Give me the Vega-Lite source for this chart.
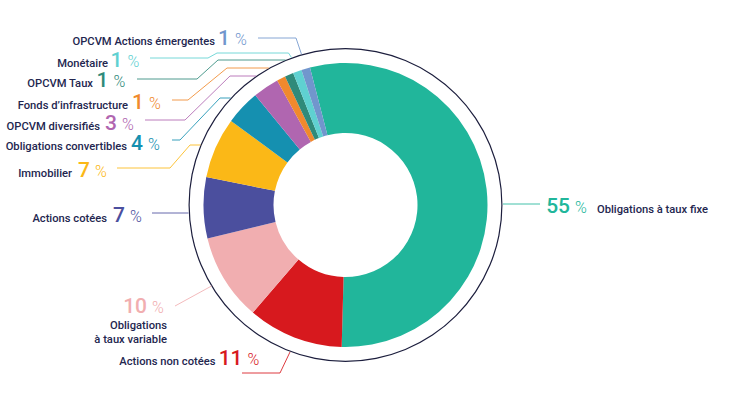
{
  "$schema": "https://vega.github.io/schema/vega-lite/v6.json",
  "width": 691,
  "height": 382,
  "autosize": {"type": "none"},
  "padding": {"left": 0, "top": 14, "right": 39, "bottom": 0},
  "background": "white",
  "config": {"view": {"stroke": null}},
  "datasets": {
    "slices": [
      {"name": "Obligations à taux fixe", "value": 55, "order": 1},
      {"name": "Actions non cotées", "value": 11, "order": 2},
      {"name": "Obligations à taux variable", "value": 10, "order": 3},
      {"name": "Actions cotées", "value": 7, "order": 4},
      {"name": "Immobilier", "value": 7, "order": 5},
      {"name": "Obligations convertibles", "value": 4, "order": 6},
      {"name": "OPCVM diversifiés", "value": 3, "order": 7},
      {"name": "Fonds d’infrastructure", "value": 1, "order": 8},
      {"name": "OPCVM Taux", "value": 1, "order": 9},
      {"name": "Monétaire", "value": 1, "order": 10},
      {"name": "OPCVM Actions émergentes", "value": 1, "order": 11}
    ],
    "labels": [
      {"name": "Obligations à taux fixe", "label": "Obligations à taux fixe", "pct": "55", "side": "right", "xnum": 224.5, "ynum": -8, "xlab": 251.5, "ylab": -8},
      {"name": "Actions non cotées", "label": "Actions non cotées", "pct": "11", "side": "left", "xnum": -103, "ynum": -160, "xlab": -130, "ylab": -160},
      {"name": "Obligations à taux variable", "label": "Obligations\nà taux variable", "pct": "10", "side": "left", "xnum": -198.5, "ynum": -108, "xlab": -178.5, "ylab": -124},
      {"name": "Actions cotées", "label": "Actions cotées", "pct": "7", "side": "left", "xnum": -220.5, "ynum": -17, "xlab": -238.5, "ylab": -17},
      {"name": "Immobilier", "label": "Immobilier", "pct": "7", "side": "left", "xnum": -255.5, "ynum": 28, "xlab": -273.5, "ylab": 28},
      {"name": "Obligations convertibles", "label": "Obligations convertibles", "pct": "4", "side": "left", "xnum": -202.5, "ynum": 55, "xlab": -218.5, "ylab": 55},
      {"name": "OPCVM diversifiés", "label": "OPCVM diversifiés", "pct": "3", "side": "left", "xnum": -228.5, "ynum": 75, "xlab": -245.5, "ylab": 75},
      {"name": "Fonds d’infrastructure", "label": "Fonds d’infrastructure", "pct": "1", "side": "left", "xnum": -201.5, "ynum": 96, "xlab": -217.5, "ylab": 96},
      {"name": "OPCVM Taux", "label": "OPCVM Taux", "pct": "1", "side": "left", "xnum": -237, "ynum": 118, "xlab": -252.5, "ylab": 118},
      {"name": "Monétaire", "label": "Monétaire", "pct": "1", "side": "left", "xnum": -223, "ynum": 138, "xlab": -237.5, "ylab": 138},
      {"name": "OPCVM Actions émergentes", "label": "OPCVM Actions émergentes", "pct": "1", "side": "left", "xnum": -115.5, "ynum": 160, "xlab": -130.5, "ylab": 160}
    ],
    "leaders": [
      {"name": "OPCVM Actions émergentes", "i": 1, "x": -87.5, "y": 167},
      {"name": "OPCVM Actions émergentes", "i": 2, "x": -49.5, "y": 167},
      {"name": "OPCVM Actions émergentes", "i": 3, "x": -44, "y": 150.7},
      {"name": "Monétaire", "i": 1, "x": -195.5, "y": 147},
      {"name": "Monétaire", "i": 2, "x": -137.5, "y": 147},
      {"name": "Monétaire", "i": 3, "x": -128.5, "y": 152},
      {"name": "Monétaire", "i": 4, "x": -57, "y": 152},
      {"name": "Monétaire", "i": 5, "x": -54, "y": 147.4},
      {"name": "OPCVM Taux", "i": 1, "x": -208.5, "y": 126},
      {"name": "OPCVM Taux", "i": 2, "x": -148.5, "y": 126},
      {"name": "OPCVM Taux", "i": 3, "x": -127.5, "y": 145},
      {"name": "OPCVM Taux", "i": 4, "x": -60, "y": 145},
      {"name": "Fonds d’infrastructure", "i": 1, "x": -173.5, "y": 105},
      {"name": "Fonds d’infrastructure", "i": 2, "x": -157.5, "y": 105},
      {"name": "Fonds d’infrastructure", "i": 3, "x": -118.5, "y": 137},
      {"name": "Fonds d’infrastructure", "i": 4, "x": -76.7, "y": 137},
      {"name": "OPCVM diversifiés", "i": 1, "x": -200.5, "y": 85},
      {"name": "OPCVM diversifiés", "i": 2, "x": -160.5, "y": 85},
      {"name": "OPCVM diversifiés", "i": 3, "x": -115.5, "y": 129},
      {"name": "OPCVM diversifiés", "i": 4, "x": -89.5, "y": 129},
      {"name": "Obligations convertibles", "i": 1, "x": -173.5, "y": 65},
      {"name": "Obligations convertibles", "i": 2, "x": -165.5, "y": 65},
      {"name": "Obligations convertibles", "i": 3, "x": -125.5, "y": 107},
      {"name": "Obligations convertibles", "i": 4, "x": -115, "y": 107},
      {"name": "Immobilier", "i": 1, "x": -228.5, "y": 37},
      {"name": "Immobilier", "i": 2, "x": -175.5, "y": 37},
      {"name": "Immobilier", "i": 3, "x": -155.5, "y": 60},
      {"name": "Immobilier", "i": 4, "x": -145, "y": 60},
      {"name": "Actions cotées", "i": 1, "x": -193.5, "y": -8},
      {"name": "Actions cotées", "i": 2, "x": -157, "y": -8},
      {"name": "Obligations à taux variable", "i": 1, "x": -170.5, "y": -101},
      {"name": "Obligations à taux variable", "i": 2, "x": -134, "y": -81},
      {"name": "Actions non cotées", "i": 1, "x": -103.5, "y": -168},
      {"name": "Actions non cotées", "i": 2, "x": -65.5, "y": -168},
      {"name": "Actions non cotées", "i": 3, "x": -55.5, "y": -147},
      {"name": "Obligations à taux fixe", "i": 1, "x": 157.5, "y": 1},
      {"name": "Obligations à taux fixe", "i": 2, "x": 194.5, "y": 1}
    ]
  },
  "layer": [
    {
      "data": {"values": [{"ring": "outer"}]},
      "mark": {"type": "arc", "radius": 157, "radius2": 155.8, "theta": 0, "theta2": 6.2832, "fill": "#1c1e3d"}
    },
    {
      "data": {"name": "slices"},
      "mark": {"type": "arc", "radius": 142, "radius2": 72, "strokeWidth": 0},
      "encoding": {
        "theta": {"field": "value", "type": "quantitative", "stack": true, "scale": {"range": [-0.2531, 6.0301]}},
        "color": {
          "field": "name", "type": "nominal", "legend": null,
          "scale": {
            "domain": ["Obligations à taux fixe", "Actions non cotées", "Obligations à taux variable", "Actions cotées", "Immobilier", "Obligations convertibles", "OPCVM diversifiés", "Fonds d’infrastructure", "OPCVM Taux", "Monétaire", "OPCVM Actions émergentes"],
            "range": ["#21b69b", "#d7191e", "#f1aeb0", "#4b4f9e", "#fbb817", "#1590b0", "#b066b0", "#f0892d", "#2f8a7a", "#5fd1d1", "#7196cd"]
          }
        },
        "order": {"field": "order", "type": "quantitative"}
      }
    },
    {
      "data": {"name": "leaders"},
      "mark": {"type": "line", "strokeWidth": 1, "opacity": 0.85, "interpolate": "linear"},
      "encoding": {
        "x": {"field": "x", "type": "quantitative", "scale": {"domain": [-345.5, 345.5], "nice": false, "zero": false}, "axis": null},
        "y": {"field": "y", "type": "quantitative", "scale": {"domain": [-191, 191], "nice": false, "zero": false}, "axis": null},
        "color": {"field": "name", "type": "nominal", "legend": null},
        "order": {"field": "i", "type": "quantitative"}
      }
    },
    {
      "data": {"name": "labels"},
      "mark": {"type": "text", "align": "right", "baseline": "alphabetic", "fontSize": 21, "font": "Roboto", "fontWeight": 500},
      "encoding": {
        "x": {"field": "xnum", "type": "quantitative"},
        "y": {"field": "ynum", "type": "quantitative"},
        "text": {"field": "pct"},
        "color": {"field": "name", "type": "nominal", "legend": null}
      }
    },
    {
      "data": {"name": "labels"},
      "mark": {"type": "text", "align": "left", "baseline": "alphabetic", "fontSize": 16, "dx": 5, "text": "%", "font": "Roboto", "fontWeight": 300},
      "encoding": {
        "x": {"field": "xnum", "type": "quantitative"},
        "y": {"field": "ynum", "type": "quantitative"},
        "color": {"field": "name", "type": "nominal", "legend": null}
      }
    },
    {
      "data": {"name": "labels"},
      "transform": [{"filter": "datum.side === 'left'"}],
      "mark": {"type": "text", "align": "right", "baseline": "alphabetic", "fontSize": 11.2, "fontWeight": 500, "lineBreak": "\n", "lineHeight": 14, "font": "Roboto", "fill": "#23264f"},
      "encoding": {
        "x": {"field": "xlab", "type": "quantitative"},
        "y": {"field": "ylab", "type": "quantitative"},
        "text": {"field": "label"}
      }
    },
    {
      "data": {"name": "labels"},
      "transform": [{"filter": "datum.side === 'right'"}],
      "mark": {"type": "text", "align": "left", "baseline": "alphabetic", "fontSize": 11.2, "fontWeight": 500, "font": "Roboto", "fill": "#23264f"},
      "encoding": {
        "x": {"field": "xlab", "type": "quantitative"},
        "y": {"field": "ylab", "type": "quantitative"},
        "text": {"field": "label"}
      }
    }
  ]
}
